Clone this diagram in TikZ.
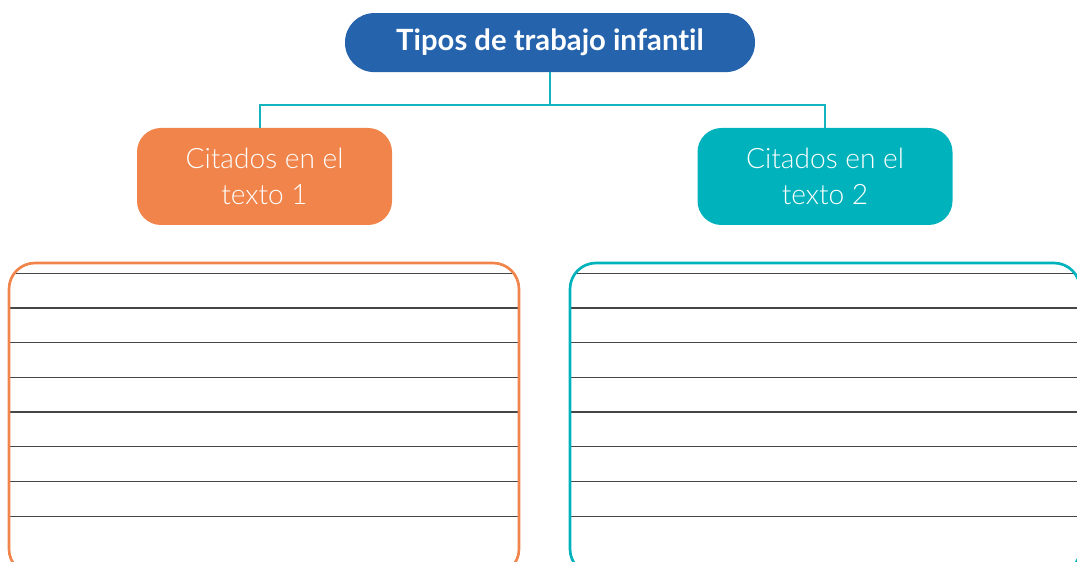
\documentclass[tikz,border=0pt]{standalone}
\usepackage{fontspec}
\setmainfont{Lato}[Ligatures=NoCommon]
\newfontfamily\latolight{Lato Light}[Ligatures=NoCommon]
\usepackage{tikz}
\usetikzlibrary{positioning, calc}
\usepackage{xcolor}
\definecolor{titleBlue}{RGB}{37, 99, 173}
\definecolor{textOrange}{RGB}{240, 132, 74}
\definecolor{textTeal}{RGB}{0, 178, 188}
\definecolor{linkTeal}{RGB}{20, 180, 190}
\definecolor{ruleGray}{RGB}{70, 70, 70}

\begin{document}
\begin{tikzpicture}[
    every node/.style={inner sep=0pt, outer sep=0pt},
    title/.style={rectangle, rounded corners=0.73cm, fill=titleBlue, minimum width=10.25cm, minimum height=1.475cm, text=white, font=\bfseries\fontsize{20.8}{25}\selectfont},
    source/.style={rectangle, rounded corners=0.6cm, minimum width=6.375cm, minimum height=2.425cm, text=white, align=center, font=\latolight\fontsize{20}{25.6}\selectfont},
    sheet/.style={rectangle, rounded corners=0.65cm, minimum width=12.75cm, minimum height=7.8cm, line width=1.9pt},
    link/.style={draw=linkTeal, line width=1.7pt},
    rule/.style={draw=ruleGray, line width=0.9pt},
]
\useasboundingbox (0, 0) rectangle (26.925, 14.025);
\clip (0, 0) rectangle (26.925, 14.025);
\node[title] (T) at (13.75, 12.96) {Tipos de trabajo infantil};
\node[source, fill=textOrange] (S1) at (6.6125, 9.6125) {Citados en el\\texto 1};
\node[source, fill=textTeal] (S2) at (20.625, 9.6125) {Citados en el\\texto 2};
\coordinate (split) at (13.75, 11.4);
\draw[link] (T.south) -- (split);
\draw[link] (split) -| ([xshift=-0.11cm]S1.north);
\draw[link] (split) -| (S2.north);
% writing areas
\node[sheet] (W1) at (6.6, 3.55) {};
\node[sheet] (W2) at (20.625, 3.55) {};
\begin{scope}
\clip[rounded corners=0.65cm] (W1.south west) rectangle (W1.north east);
\foreach \k in {0,...,7}
  \draw[rule] ($(W1.west) + (0, 3.6425-0.8675*\k)$) -- ($(W1.east) + (0, 3.6425-0.8675*\k)$);
\end{scope}
\begin{scope}
\clip[rounded corners=0.65cm] (W2.south west) rectangle (W2.north east);
\foreach \k in {0,...,7}
  \draw[rule] ($(W2.west) + (0, 3.6425-0.8675*\k)$) -- ($(W2.east) + (0, 3.6425-0.8675*\k)$);
\end{scope}
\draw[textOrange, line width=1.9pt, rounded corners=0.65cm] (W1.south west) rectangle (W1.north east);
\draw[textTeal, line width=1.9pt, rounded corners=0.65cm] (W2.south west) rectangle (W2.north east);
\end{tikzpicture}
\end{document}
